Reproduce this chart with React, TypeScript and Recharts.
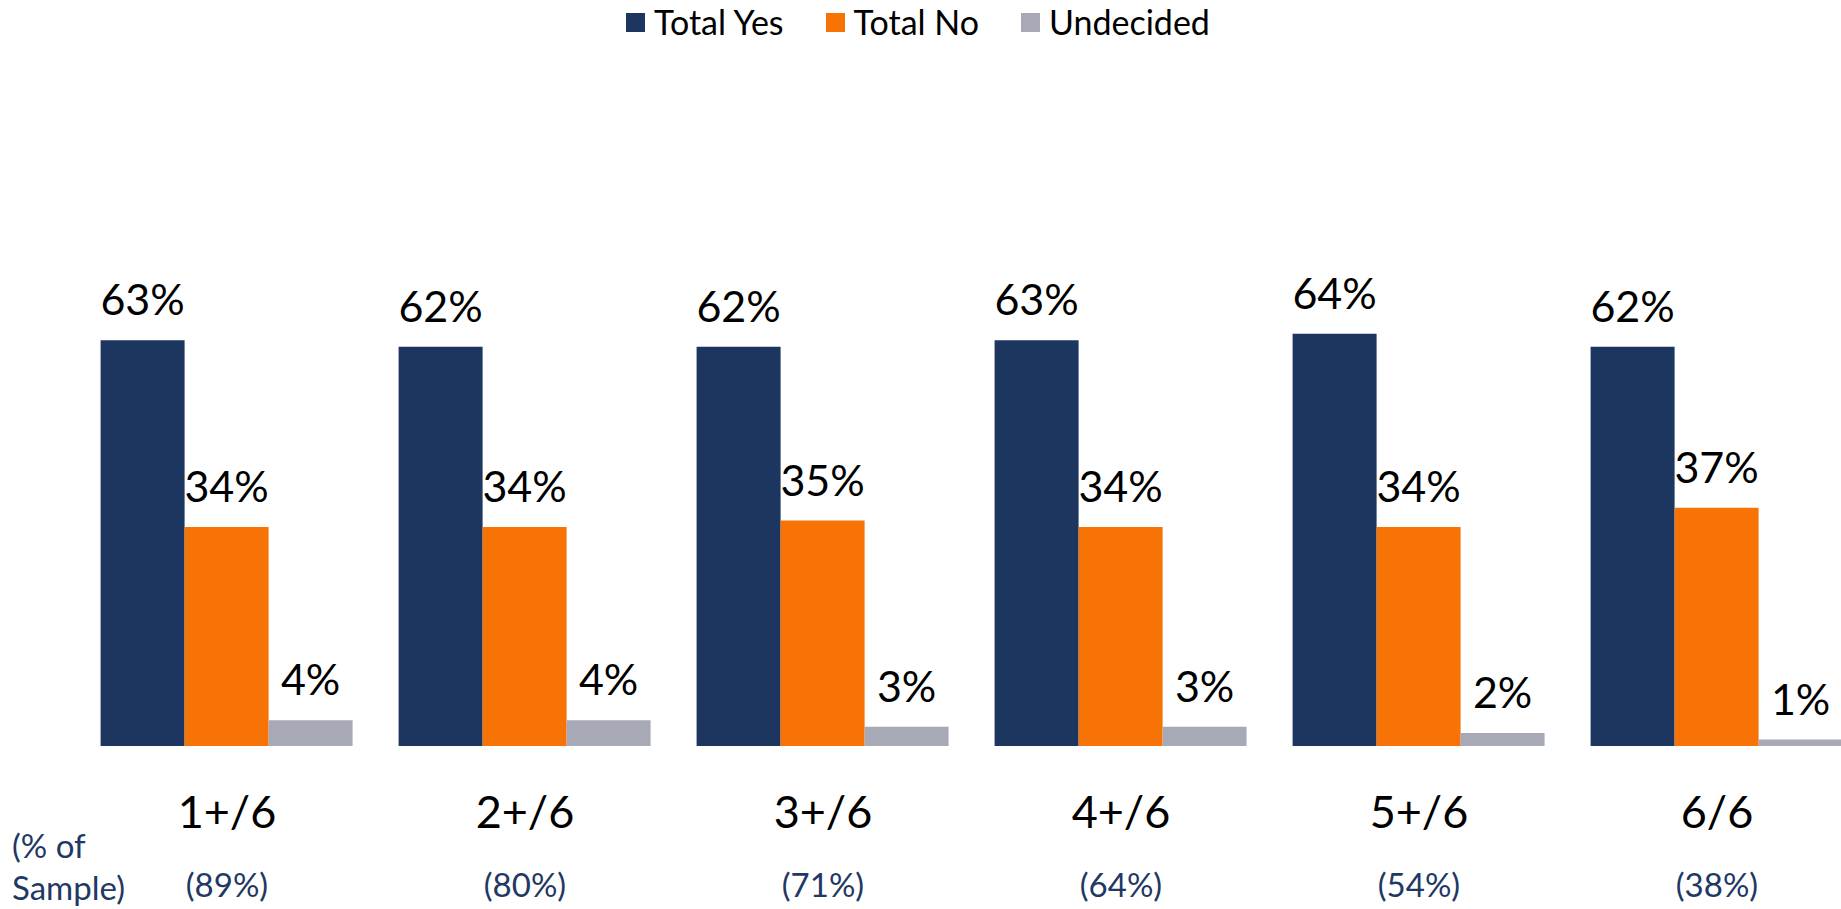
import React from "react";
import { BarChart, Bar, XAxis, YAxis, Legend, LabelList } from "recharts";

const categories = ["1+/6", "2+/6", "3+/6", "4+/6", "5+/6", "6/6"];
const totalYes = [63, 62, 62, 63, 64, 62];
const totalNo = [34, 34, 35, 34, 34, 37];
const undecided = [4, 4, 3, 3, 2, 1];
const sampleShare = ["(89%)", "(80%)", "(71%)", "(64%)", "(54%)", "(38%)"];
const seriesNames = ["Total Yes", "Total No", "Undecided"];

const NAVY = "#1D3660";
const ORANGE = "#F87305";
const GREY = "#A8A9B7";
const seriesColors = [NAVY, ORANGE, GREY];
const FONT = "Lato, 'Open Sans', sans-serif";

const data = categories.map((c, i) => ({
  name: c,
  yes: totalYes[i],
  no: totalNo[i],
  undecided: undecided[i],
}));

const ValueLabel = (props: any) => {
  const { x, y, width, value } = props;
  return (
    <text
      x={x + width / 2}
      y={y - 25}
      textAnchor="middle"
      fontSize={43}
      fontFamily={FONT}
      fill="#000"
    >
      {value}%
    </text>
  );
};

const CategoryTick = (props: any) => {
  const { x, y, payload, index } = props;
  return (
    <g>
      <text
        x={x}
        y={y + 80}
        textAnchor="middle"
        fontSize={45}
        fontFamily={FONT}
        fill="#000"
      >
        {payload.value}
      </text>
      <text
        x={x}
        y={y + 149}
        textAnchor="middle"
        fontSize={33}
        fontFamily={FONT}
        fill="#1F3864"
      >
        {sampleShare[index]}
      </text>
    </g>
  );
};

const LegendContent = () => (
  <div style={{ display: "flex", alignItems: "center", fontFamily: FONT }}>
    {seriesNames.map((name, i) => (
      <div
        key={name}
        style={{ display: "flex", alignItems: "center", marginRight: 42 }}
      >
        <span
          style={{
            width: 19,
            height: 19,
            background: seriesColors[i],
            display: "inline-block",
            marginRight: 9,
          }}
        />
        <span style={{ fontSize: 34, color: "#000", lineHeight: "40px" }}>
          {name}
        </span>
      </div>
    ))}
  </div>
);

export default function App() {
  return (
    <div
      style={{
        position: "fixed",
        top: 0,
        left: 0,
        width: 1841,
        height: 909,
        overflow: "hidden",
        background: "#fff",
      }}
    >
      <BarChart
        width={1880}
        height={909}
        data={data}
        margin={{ top: 102, right: 14, bottom: 0, left: 78 }}
        barCategoryGap={22.6}
        barGap={0}
      >
        <XAxis
          dataKey="name"
          axisLine={false}
          tickLine={false}
          tickSize={0}
          height={163}
          interval={0}
          tick={<CategoryTick />}
        />
        <YAxis hide domain={[0, 100]} />
        <Legend
          layout="horizontal"
          verticalAlign="middle"
          align="center"
          content={<LegendContent />}
          wrapperStyle={{ top: 2, left: 626, width: "auto", height: 40 }}
        />
        <Bar dataKey="yes" name="Total Yes" fill={NAVY} isAnimationActive={false}>
          <LabelList dataKey="yes" content={<ValueLabel />} />
        </Bar>
        <Bar dataKey="no" name="Total No" fill={ORANGE} isAnimationActive={false}>
          <LabelList dataKey="no" content={<ValueLabel />} />
        </Bar>
        <Bar
          dataKey="undecided"
          name="Undecided"
          fill={GREY}
          isAnimationActive={false}
        >
          <LabelList dataKey="undecided" content={<ValueLabel />} />
        </Bar>
      </BarChart>
      <div
        style={{
          position: "absolute",
          left: 12,
          top: 824,
          fontFamily: FONT,
          fontSize: 33,
          lineHeight: "42px",
          color: "#1F3864",
        }}
      >
        (% of
        <br />
        Sample)
      </div>
    </div>
  );
}
